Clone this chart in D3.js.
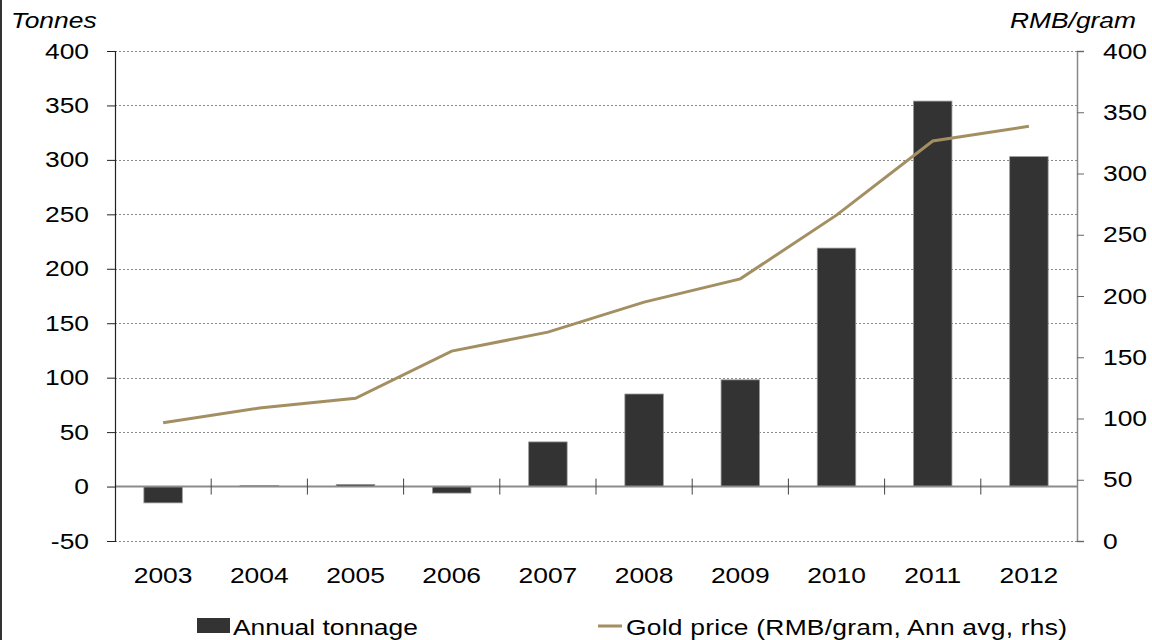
<!DOCTYPE html>
<html>
<head>
<meta charset="utf-8">
<script src="https://cdn.jsdelivr.net/npm/d3@7"></script>
<style>
  html, body { margin: 0; padding: 0; background: #fff; }
  svg { display: block; font-family: "Liberation Sans", Arial, sans-serif; }
</style>
</head>
<body>
<svg id="chart" width="1152" height="640"></svg>
<script>
// China gold demand: annual tonnage (bars, lhs) and gold price (line, rhs)
const years = ["2003", "2004", "2005", "2006", "2007", "2008", "2009", "2010", "2011", "2012"];
const annualTonnage = [-15, 1, 2, -6, 41, 85, 98, 219, 354, 303];
const goldPrice = [96.5, 108.5, 116.5, 155, 170.5, 195, 214, 266, 326.5, 338.5];
const leftTicks = [-50, 0, 50, 100, 150, 200, 250, 300, 350, 400];
const rightTicks = [0, 50, 100, 150, 200, 250, 300, 350, 400];
const seriesNames = ["Annual tonnage", "Gold price (RMB/gram, Ann avg, rhs)"];

const svg = d3.select("#chart");
const W = 1152, H = 640;
const plotLeft = 115, plotRight = 1077, plotTop = 51, plotBottom = 541;

const barColor = "#333333";
const lineColor = "#a38f62";
const fontSize = 22;
const stretchX = 1.2; // wide lettering

// Turn x/y positioned text into a horizontally widened text at the same anchor
function widen(sel) {
  sel.each(function () {
    const t = d3.select(this);
    const x = +t.attr("x") || 0, y = +t.attr("y") || 0;
    t.attr("x", 0).attr("y", 0)
      .attr("transform", `translate(${x},${y}) scale(${stretchX},1)`);
  });
  return sel;
}

// Scales
const xCat = d3.scaleBand().domain(years).range([plotLeft, plotRight]).padding(0);
const xBar = d3.scaleBand().domain(years).range([plotLeft, plotRight])
  .paddingInner(0.6).paddingOuter(0.3);
const yL = d3.scaleLinear().domain([-50, 400]).range([plotBottom, plotTop]);
const yR = d3.scaleLinear().domain([0, 400]).range([plotBottom, plotTop]);

// Frame line at the far left
svg.append("line").attr("x1", 1).attr("x2", 1).attr("y1", 0).attr("y2", H)
  .attr("stroke", "#333").attr("stroke-width", 2);

// Horizontal gridlines (dotted), zero line drawn separately
svg.append("g").selectAll("line")
  .data(leftTicks.filter(d => d !== 0))
  .join("line")
  .attr("x1", plotLeft).attr("x2", plotRight)
  .attr("y1", d => Math.round(yL(d)) + 0.5).attr("y2", d => Math.round(yL(d)) + 0.5)
  .attr("stroke", "#8a8a8a").attr("stroke-width", 1)
  .attr("stroke-dasharray", "2,2");

// Bars
svg.append("g").selectAll("rect")
  .data(years.map((y, i) => ({ y, v: annualTonnage[i] })))
  .join("rect")
  .attr("x", d => xBar(d.y))
  .attr("width", xBar.bandwidth())
  .attr("y", d => yL(Math.max(0, d.v)))
  .attr("height", d => Math.abs(yL(d.v) - yL(0)))
  .attr("fill", barColor)
  .attr("stroke", "#9a9a9a").attr("stroke-width", 0.8);

// Zero line with category tick marks
svg.append("line")
  .attr("x1", plotLeft).attr("x2", plotRight)
  .attr("y1", yL(0)).attr("y2", yL(0))
  .attr("stroke", "#8c8c8c").attr("stroke-width", 2);
svg.append("g").selectAll("line")
  .data(years.slice(1))
  .join("line")
  .attr("x1", d => xCat(d)).attr("x2", d => xCat(d))
  .attr("y1", yL(0) - 8).attr("y2", yL(0) + 8)
  .attr("stroke", "#444").attr("stroke-width", 1);

// Left axis
const axL = svg.append("g").attr("transform", `translate(${plotLeft},0)`)
  .call(d3.axisLeft(yL).tickValues(leftTicks).tickSize(8).tickPadding(18)
    .tickFormat(d => String(d)));
axL.select(".domain").attr("stroke", "#222").attr("stroke-width", 1.2);
axL.selectAll(".tick line").attr("stroke", "#222");
axL.selectAll("text").attr("font-size", fontSize).attr("fill", "#000")
  .attr("font-family", "Liberation Sans, Arial, sans-serif")
  .call(widen);

// Right axis
const axR = svg.append("g").attr("transform", `translate(${plotRight},0)`)
  .call(d3.axisRight(yR).tickValues(rightTicks).tickSize(7).tickPadding(19)
    .tickFormat(d => String(d)));
axR.select(".domain").attr("stroke", "#888").attr("stroke-width", 1.5);
axR.selectAll(".tick line").attr("stroke", "#666");
axR.selectAll("text").attr("font-size", fontSize).attr("fill", "#000")
  .attr("font-family", "Liberation Sans, Arial, sans-serif")
  .call(widen);

// Category labels
svg.append("g").selectAll("text")
  .data(years)
  .join("text")
  .attr("x", d => xCat(d) + xCat.bandwidth() / 2)
  .attr("y", 583)
  .attr("text-anchor", "middle")
  .attr("font-size", fontSize)
  .text(d => d)
  .call(widen);

// Gold price line
const line = d3.line()
  .x((d, i) => xCat(years[i]) + xCat.bandwidth() / 2)
  .y(d => yR(d));
svg.append("path")
  .datum(goldPrice)
  .attr("d", line)
  .attr("fill", "none")
  .attr("stroke", lineColor)
  .attr("stroke-width", 3);

// Axis titles
svg.append("text").attr("x", 11).attr("y", 28)
  .attr("font-size", fontSize).attr("font-style", "italic").text("Tonnes")
  .call(widen);
svg.append("text").attr("x", 1136).attr("y", 28)
  .attr("text-anchor", "end")
  .attr("font-size", fontSize).attr("font-style", "italic").text("RMB/gram")
  .call(widen);

// Legend
const lg = svg.append("g");
lg.append("rect").attr("x", 197).attr("y", 618).attr("width", 33).attr("height", 15)
  .attr("fill", barColor);
lg.append("text").attr("x", 233).attr("y", 635).attr("font-size", fontSize)
  .text(seriesNames[0])
  .call(widen);
lg.append("line").attr("x1", 598).attr("x2", 622).attr("y1", 626).attr("y2", 626)
  .attr("stroke", lineColor).attr("stroke-width", 3);
lg.append("text").attr("x", 626).attr("y", 635).attr("font-size", fontSize)
  .attr("textLength", 441 / stretchX).attr("lengthAdjust", "spacing")
  .text(seriesNames[1])
  .call(widen);
</script>
</body>
</html>
